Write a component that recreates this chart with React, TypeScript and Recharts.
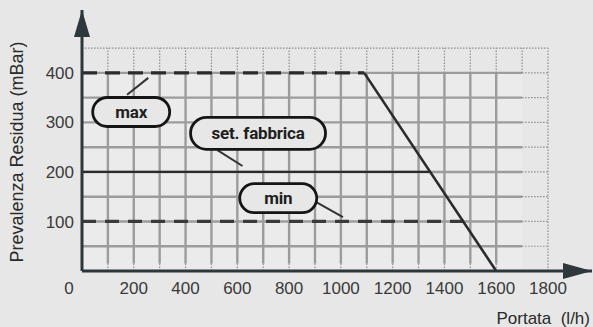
import React from 'react';
import {
  ComposedChart,
  Line,
  XAxis,
  YAxis,
  ReferenceArea,
  ReferenceDot,
} from 'recharts';

// curves (Portata l/h -> Prevalenza mBar)
const maxLine = [
  { x: 0, y: 400 },
  { x: 1090, y: 400 },
];
const setLine = [
  { x: 0, y: 200 },
  { x: 1345, y: 200 },
];
const minLine = [
  { x: 0, y: 100 },
  { x: 1480, y: 100 },
];
const pumpCurve = [
  { x: 1090, y: 400 },
  { x: 1600, y: 0 },
];

const xTicks = [0, 200, 400, 600, 800, 1000, 1200, 1400, 1600, 1800];
const yTicks = [100, 200, 300, 400];

// grid
const gridX = [100, 200, 300, 400, 500, 600, 700, 800, 900, 1000, 1100, 1200, 1300, 1400, 1500, 1600];
const gridY = [50, 100, 150, 200, 250, 300, 350, 400];
const topDottedX = [100, 200, 300, 400, 500, 600, 700, 800, 900, 1000, 1100, 1200, 1300, 1400, 1500, 1600, 1700];

// callouts
const callouts = [
  { label: 'max', x: 190, y: 321, from: [174, 356], to: [256, 390] },
  { label: 'set. fabbrica', x: 680, y: 278, from: [523, 244], to: [620, 212] },
  { label: 'min', x: 758, y: 147, from: [905, 139], to: [1008, 109] },
];

const BG = '#e6e7e6';
const INK = '#2b2b2b';
const AXIS = '#2e373c';
const GRID = '#9c9c9c';
const DOT = '#8e8e8e';
const FONT = '"Liberation Sans", Arial, sans-serif';

const seg = (x1: number, y1: number, x2: number, y2: number) => [
  { x: x1, y: y1 },
  { x: x2, y: y2 },
];

const XTick = (props: any) => {
  const { x, y, payload } = props;
  const dx = payload.value === 0 ? -13 : 0;
  return (
    <text x={x + dx} y={y} dy="0.71em" textAnchor="middle" fill="#3a3a3a" fontSize={17} fontFamily={FONT}>
      {payload.value}
    </text>
  );
};

const pill = (label: string) => (props: any) => {
  const { cx, cy } = props;
  const w = label.length > 5 ? 135 : 77;
  const h = label.length > 5 ? 32 : 29;
  return (
    <g>
      <rect x={cx - w / 2} y={cy - h / 2} width={w} height={h} rx={h / 2} ry={h / 2} fill={BG} stroke="#151515" strokeWidth={2.8} />
      <text
        x={cx}
        y={cy}
        dy="0.36em"
        textAnchor="middle"
        fill="#1e1e1e"
        fontSize={17}
        fontWeight={700}
        fontFamily="Roboto, sans-serif"
        letterSpacing={-0.2}
      >
        {label}
      </text>
    </g>
  );
};

const gridLine = (key: string, data: any[], dotted: boolean) => (
  <Line
    key={key}
    data={data}
    dataKey="y"
    type="linear"
    stroke={dotted ? DOT : GRID}
    strokeWidth={dotted ? 1.2 : 2.4}
    strokeDasharray={dotted ? '1.5 1.5' : '0'}
    dot={false}
    activeDot={false}
    isAnimationActive={false}
  />
);

export default function App() {
  return (
    <div style={{ position: 'absolute', left: 0, top: 0, width: 593, height: 327, background: BG, fontFamily: FONT }}>
      <ComposedChart width={593} height={327} margin={{ top: 10, right: 1, bottom: 26, left: 0 }}>
        <XAxis
          type="number"
          dataKey="x"
          domain={[0, 1970]}
          ticks={xTicks}
          allowDataOverflow
          height={30}
          tickLine={false}
          tickMargin={5}
          tick={<XTick />}
          axisLine={{ stroke: AXIS, strokeWidth: 3 }}
        />
        <YAxis
          type="number"
          dataKey="y"
          domain={[0, 527]}
          ticks={yTicks}
          allowDataOverflow
          width={82}
          tickLine={false}
          tick={{ fill: '#3a3a3a', fontSize: 17, fontFamily: FONT }}
          axisLine={{ stroke: AXIS, strokeWidth: 3 }}
        />

        <ReferenceArea x1={0} x2={1700} y1={0} y2={400} fill="#ebebeb" fillOpacity={1} stroke="none" ifOverflow="visible" />

        {gridX.map((v) => gridLine('gx' + v, seg(v, 15, v, 400), false))}
        {gridX.map((v) => gridLine('gxb' + v, seg(v, 0, v, 15), true))}
        {gridY.map((v) => gridLine('gy' + v, seg(0, v, 1700, v), false))}
        {topDottedX.map((v) => gridLine('tx' + v, seg(v, 400, v, 450), true))}
        {gridY.map((v) => gridLine('ry' + v, seg(1700, v, 1800, v), true))}
        {gridLine('top', seg(0, 450, 1800, 450), true)}
        {gridLine('right', seg(1800, 0, 1800, 450), true)}

        <Line data={setLine} dataKey="y" type="linear" stroke={INK} strokeWidth={2.2} dot={false} isAnimationActive={false} />
        <Line data={maxLine} dataKey="y" type="linear" stroke={INK} strokeWidth={3.2} strokeDasharray="15 8" dot={false} isAnimationActive={false} />
        <Line data={minLine} dataKey="y" type="linear" stroke="#3a3a3a" strokeWidth={3.2} strokeDasharray="14 9" dot={false} isAnimationActive={false} />
        <Line data={pumpCurve} dataKey="y" type="linear" stroke={INK} strokeWidth={2.6} dot={false} isAnimationActive={false} />

        {callouts.map((c) => (
          <Line
            key={'ld' + c.label}
            data={seg(c.from[0], c.from[1], c.to[0], c.to[1])}
            dataKey="y"
            type="linear"
            stroke="#333"
            strokeWidth={2}
            dot={false}
            isAnimationActive={false}
          />
        ))}
        {callouts.map((c) => (
          <ReferenceDot key={'cb' + c.label} x={c.x} y={c.y} ifOverflow="visible" shape={pill(c.label)} />
        ))}

        <ReferenceDot
          x={1970}
          y={0}
          ifOverflow="visible"
          shape={(p: any) => <polygon points={`${p.cx},${p.cy} ${p.cx - 29},${p.cy - 8} ${p.cx - 29},${p.cy + 8}`} fill={AXIS} />}
        />
        <ReferenceDot
          x={0}
          y={527}
          ifOverflow="visible"
          shape={(p: any) => <polygon points={`${p.cx},${p.cy} ${p.cx - 8},${p.cy + 27} ${p.cx + 8},${p.cy + 27}`} fill={AXIS} />}
        />
      </ComposedChart>

      <svg width={593} height={327} style={{ position: 'absolute', left: 0, top: 0, pointerEvents: 'none' }}>
        <text
          x={17}
          y={152}
          transform="rotate(-90 17 152)"
          textAnchor="middle"
          dy="0.35em"
          fill="#2a2a2a"
          fontSize={18}
          fontFamily={FONT}
        >
          Prevalenza Residua (mBar)
        </text>
        <text x={590} y={324} textAnchor="end" fill="#2a2a2a" fontSize={17} fontFamily={FONT} style={{ whiteSpace: 'pre' }}>
          {'Portata  (l/h)'}
        </text>
      </svg>
    </div>
  );
}
